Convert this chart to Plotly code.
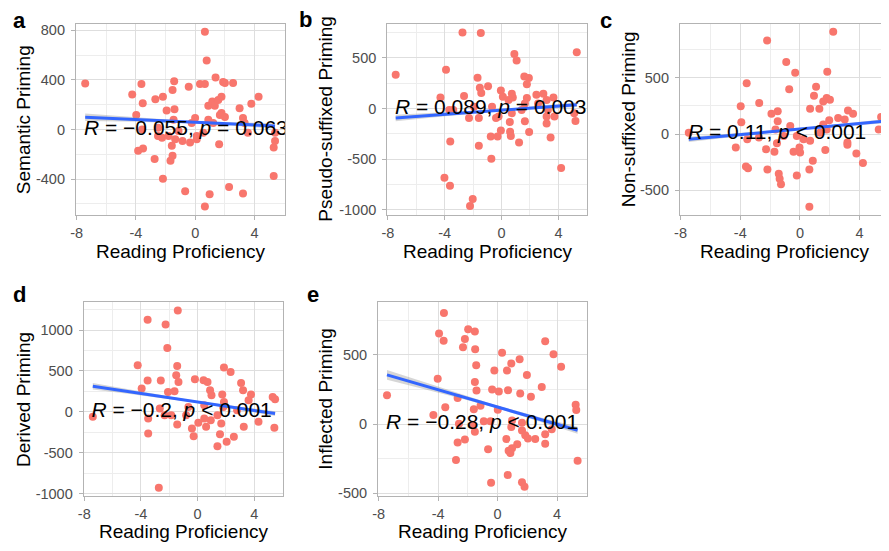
import numpy as np
import plotly.graph_objects as go

# ---------------- data ----------------
x_a = [-7.42, 0.65, 0.77, -4.25, -3.63, -3.54, -3.98, -2.69, -2.18, -1.42, -1.53, -1.40, -1.93, -0.44,
       0.32, 0.65, 1.37, 1.88, 2.55, 2.00, 0.88, 1.15, 1.55, 1.77, 1.32, 2.99, 3.78, 4.27, 1.77, 2.00,
       1.66, 3.22, 3.33, -0.01, -0.24, -1.46, 0.88, 1.21, 3.55, 5.38, 5.38, 5.29, 5.29, -2.51, -2.24,
       -3.52, -3.85, -2.74, -1.67, -1.53, -1.58, -1.80, -1.35, -0.86, -0.35, 0.10, 0.10, 1.61, -2.18,
       -0.68, 0.97, 0.65, 2.28, 3.22, -2.51, -3.58, 0.54, -1.13]
y_a = [371, 789, 556, 283, 366, 212, 117, 244, 265, 389, 318, 164, 154, 344,
       366, 366, 419, 384, 376, 376, 191, 225, 238, 265, 191, 172, 207, 265, 132, 101,
       117, 93, 53, 93, 53, 79, 79, 53, -26, -26, -93, -146, -376, -53, -66,
       -154, -172, -238, -252, -212, -132, -53, -79, -93, -106, -79, -53, -119, -397,
       -498, -522, -622, -464, -516, 13, 0, -26, -13]

x_b = [-7.45, -2.75, -1.46, -3.91, 5.29, 0.90, 1.06, -1.69, -1.53, -1.43, -0.95, -0.05, 0.09, 0.72,
       0.79, 1.60, 1.92, 1.78, 1.78, 2.45, 2.94, 3.65, 3.17, -2.64, -4.30, -3.68, -2.29, -1.60,
       -0.39, 0.72, 1.41, -0.67, 1.64, 0.58, -0.05, -0.76, -0.28, 0.60, 0.65, 1.23, 1.94, 3.17,
       3.17, 3.45, 5.20, 5.11, -3.61, -1.60, -0.72, 4.19, -4.02, -3.63, -2.03, -2.22, -0.21,
       -1.94, 3.26, 1.64, 3.72, 2.57, 0.49, -3.40]
y_b = [334, 752, 746, 383, 556, 540, 476, 305, 206, 154, 222, 180, 116, 148,
       109, 318, 302, 241, 106, 138, 148, 109, 84, 125, 109, -13, -93, -93,
       -93, -45, -13, 19, -125, -132, -215, -276, -276, -228, -270, -334, -231, -148,
       -77, -286, -122, -45, -325, -367, -495, -585, -682, -762, -891, -961, -77,
       19, -13, 51, -77, 51, 84, -13]

x_c = [-7.45, 2.23, -2.20, -0.92, -0.32, 1.83, -3.57, -0.72, 1.08, 0.94, -3.97, -2.73, -1.49, -1.91,
       -1.49, -3.93, 0.68, 1.30, 1.56, 1.79, 2.01, 1.96, 2.56, 3.00, 3.22, 3.56, 5.44, 5.28, 1.56,
       -0.21, 0.24, 0.68, -0.65, -1.64, -3.53, -4.30, -2.27, -1.71, -0.43, -0.03, 0.01, 0.86, 1.70,
       3.18, 3.18, 3.78, 4.22, -3.62, -3.48, -2.18, -1.42, -1.36, -1.27, -0.21, 0.63, 0.63, -2.75,
       -1.09, 1.34, -1.54, 1.79]
y_c = [12, 909, 830, 640, 544, 553, 450, 398, 421, 339, 246, 275, 202, 181,
       114, 105, 225, 225, 289, 319, 304, 123, 143, 129, 208, 181, 152, 41, 85,
       -18, -47, -61, 70, 41, -47, -120, -135, -158, -158, -120, -164, -237, -143,
       -96, -76, -173, -257, -289, -304, -316, -354, -398, -447, -368, -316, -646, -32,
       -18, 12, -82, 41]

x_d = [-7.40, -1.40, -3.53, -2.26, -2.14, -4.23, -1.44, -3.53, -2.60, -1.51, -1.35, -3.95, -1.63, -0.19,
       0.42, 0.70, 1.86, 2.33, 3.07, 3.21, 3.77, 3.60, 1.74, 0.88, 0.98, 1.86, 5.30, 5.47, 4.30,
       5.42, 3.26, 2.56, 2.05, 1.40, 1.58, 1.67, 0.60, 0.05, -0.40, -0.28, -3.49, -3.49, -1.44,
       -1.86, -2.67, -0.65, 0.47, 0.93, 1.40, 2.79, 0.47, -2.74, -2.09, -0.81, -2.33, 1.81]
y_d = [-61, 1240, 1126, 1069, 780, 569, 561, 382, 382, 447, 366, 285, 252, 398,
       386, 366, 541, 488, 354, 264, 211, 142, 211, 264, 203, 122, 183, 154, -122,
       -195, -183, -305, -366, -419, -272, -142, -183, -134, -203, -297, -264, -81, -154,
       -41, 41, 61, 81, -102, -41, 20, -81, -927, 244, -41, -41, 61]

x_e = [-7.44, -3.61, -3.94, -3.63, -1.98, -1.53, -2.20, -2.33, -1.51, -1.44, -1.53, -1.42, -4.03, -2.69,
       -3.52, -4.32, -1.60, 0.30, 0.92, -0.22, 0.63, 1.48, 3.20, 3.76, 4.27, 1.97, 2.97, -0.37,
       0.08, 0.70, 1.52, 2.24, 5.25, 5.29, 5.38, 0.01, -0.93, -0.48, 0.97, 1.64, 0.92, 1.64,
       1.86, 2.04, 2.53, 3.20, 3.64, 3.20, 0.59, 1.32, 0.97, 0.74, 0.86, -0.64, -2.20, -2.69,
       -2.80, -1.53, -1.66, 0.68, -0.44, 1.64, 1.81, -2.60, -1.15]
y_e = [209, 802, 654, 602, 685, 668, 614, 555, 541, 424, 304, 242, 327, 188,
       122, 66, 108, 515, 438, 386, 386, 468, 598, 504, 414, 355, 268, 249,
       235, 245, 221, 198, 139, 101, -264, 104, 21, 21, 26, 9, -21, -47,
       -80, -104, -108, -73, -38, -141, -108, -146, -174, -193, -209, -181, -111, -132,
       -259, -56, -5, -367, -424, -419, -452, 2, 132]

panel_letters = ["a", "b", "c", "d", "e"]
y_titles = ["Semantic Priming", "Pseudo-suffixed Priming", "Non-suffixed Priming",
            "Derived Priming", "Inflected Priming"]
x_title = "Reading Proficiency"
cor_labels = ["<i>R</i> = \u22120.055, <i>p</i> = 0.063",
              "<i>R</i> = 0.089, <i>p</i> = 0.003",
              "<i>R</i> = 0.11, <i>p</i> < 0.001",
              "<i>R</i> = \u22120.2, <i>p</i> < 0.001",
              "<i>R</i> = \u22120.28, <i>p</i> < 0.001"]
fit_slope = [-5.4, 10.4, 12.3, -25.9, -31.2]
fit_intercept = [58, -16, 44, 121, 123]
ci_mid = [8, 8, 6, 10, 9]
ci_end = [30, 32, 23, 40, 35]

x_ticks = [-8, -4, 0, 4]
x_minor = [-6, -2, 2, 6]
y_ticks = [[800, 400, 0, -400], [500, 0, -500, -1000], [500, 0, -500],
           [1000, 500, 0, -500, -1000], [500, 0, -500]]
y_minor = [[600, 200, -200, -600], [750, 250, -250, -750], [750, 250, -250],
           [1250, 750, 250, -250, -750], [750, 250, -250]]

xs = [x_a, x_b, x_c, x_d, x_e]
ys = [y_a, y_b, y_c, y_d, y_e]

# ---------------- layout geometry ----------------
OFF = 8                      # page body margin of the browser
W, H = 889 - OFF, 551 - OFF
# panel pixel boxes in the reference: left, right, top, bottom
boxes = [(70.5, 281, 22.7, 216.7), (384.3, 586, 22.7, 216.7), (679.3, 889, 22.7, 216.7),
         (78.3, 279.3, 305, 501.5), (375, 586, 305, 501.5)]
x_ranges = [[-8.04, 6.04], [-8.04, 6.04], [-8.04, 5.9], [-8.04, 6.04], [-8.04, 6.04]]
y_ranges = [[-690, 855], [-1050, 840], [-720, 982], [-1030, 1341], [-520, 880]]
letter_pos = [(14, 19), (302, 18), (605, 19), (14, 297), (309, 297)]
ytitle_x = [17, 322, 627, 17, 322]
xtitle_y = [254, 254, 254, 537, 537]
xtitle_x = [176, 485, 785, 179, 480]

FONT = "Liberation Sans, Arial, sans-serif"
POINT = "#F8766D"
LINE = "#3366FF"
GRID = "#DEDEDE"
MINOR = "#EDEDED"
BORDER = "#B3B3B3"


def px(v):
    return (v - OFF) / W


def py(v):
    return 1 - (v - OFF) / H


fig = go.Figure()
layout = dict(width=W, height=H, margin=dict(l=0, r=0, t=0, b=0),
              paper_bgcolor="white", plot_bgcolor="white", showlegend=False,
              font=dict(family=FONT))
annotations = []

for i in range(5):
    xa = "x" if i == 0 else f"x{i+1}"
    ya = "y" if i == 0 else f"y{i+1}"
    xk = "xaxis" if i == 0 else f"xaxis{i+1}"
    yk = "yaxis" if i == 0 else f"yaxis{i+1}"
    L, R, T, B = boxes[i]
    x = np.array(xs[i], dtype=float)
    y = np.array(ys[i], dtype=float)

    # points
    fig.add_trace(go.Scatter(x=x, y=y, mode="markers", xaxis=xa, yaxis=ya,
                             marker=dict(color=POINT, size=8, line=dict(width=0)),
                             hoverinfo="skip"))
    # fit line with band
    xl = np.linspace(x.min(), x.max(), 60)
    yl = fit_intercept[i] + fit_slope[i] * xl
    xm = x.mean()
    far = max(x.max() - xm, xm - x.min())
    hw = np.sqrt(ci_mid[i] ** 2 + (ci_end[i] ** 2 - ci_mid[i] ** 2) * ((xl - xm) / far) ** 2)
    fig.add_trace(go.Scatter(x=np.concatenate([xl, xl[::-1]]),
                             y=np.concatenate([yl + hw, (yl - hw)[::-1]]),
                             mode="lines", fill="toself", fillcolor="rgba(153,153,153,0.4)",
                             line=dict(width=0), xaxis=xa, yaxis=ya, hoverinfo="skip"))
    fig.add_trace(go.Scatter(x=xl, y=yl, mode="lines", xaxis=xa, yaxis=ya,
                             line=dict(color=LINE, width=3), hoverinfo="skip"))
    # correlation label (clipped to panel)
    fig.add_trace(go.Scatter(x=[-7.5], y=[0], mode="text", text=[cor_labels[i]],
                             textposition="middle right", cliponaxis=True,
                             textfont=dict(size=21, color="black", family=FONT),
                             xaxis=xa, yaxis=ya, hoverinfo="skip"))

    axis_common = dict(showgrid=True, gridcolor=GRID, gridwidth=1, zeroline=False,
                       ticks="outside", ticklen=4, tickcolor=BORDER, tickwidth=1,
                       showline=True, linecolor=BORDER, linewidth=1.2, mirror=True,
                       tickfont=dict(size=14.5, color="#4D4D4D", family=FONT), fixedrange=True)
    layout[xk] = dict(domain=[px(L), min(px(R), 1.0)], range=x_ranges[i], anchor=ya,
                      tickvals=x_ticks, ticktext=[str(v) for v in x_ticks],
                      minor=dict(tickvals=x_minor, showgrid=True, gridcolor=MINOR, gridwidth=1, ticks=""),
                      **axis_common)
    layout[yk] = dict(domain=[py(B), py(T)], range=y_ranges[i], anchor=xa,
                      tickvals=y_ticks[i], ticktext=[str(v) for v in y_ticks[i]],
                      minor=dict(tickvals=y_minor[i], showgrid=True, gridcolor=MINOR, gridwidth=1, ticks=""),
                      ticklabelstandoff=3, **axis_common)

    # panel letter
    lx, ly = letter_pos[i]
    annotations.append(dict(text=f"<b>{panel_letters[i]}</b>", x=px(lx), y=py(ly),
                            xref="paper", yref="paper", showarrow=False,
                            xanchor="center", yanchor="middle", height=18, valign="middle",
                            font=dict(size=22, color="black", family=FONT)))
    # axis titles
    annotations.append(dict(text=x_title, x=px(xtitle_x[i]), y=py(xtitle_y[i]),
                            xref="paper", yref="paper", showarrow=False,
                            xanchor="center", yanchor="middle",
                            font=dict(size=19, color="black", family=FONT)))
    annotations.append(dict(text=y_titles[i], x=px(ytitle_x[i]), y=py((T + B) / 2),
                            xref="paper", yref="paper", showarrow=False, textangle=-90,
                            xanchor="center", yanchor="middle",
                            font=dict(size=19, color="black", family=FONT)))

layout["annotations"] = annotations
fig.update_layout(**layout)
fig.write_html("out.html")
